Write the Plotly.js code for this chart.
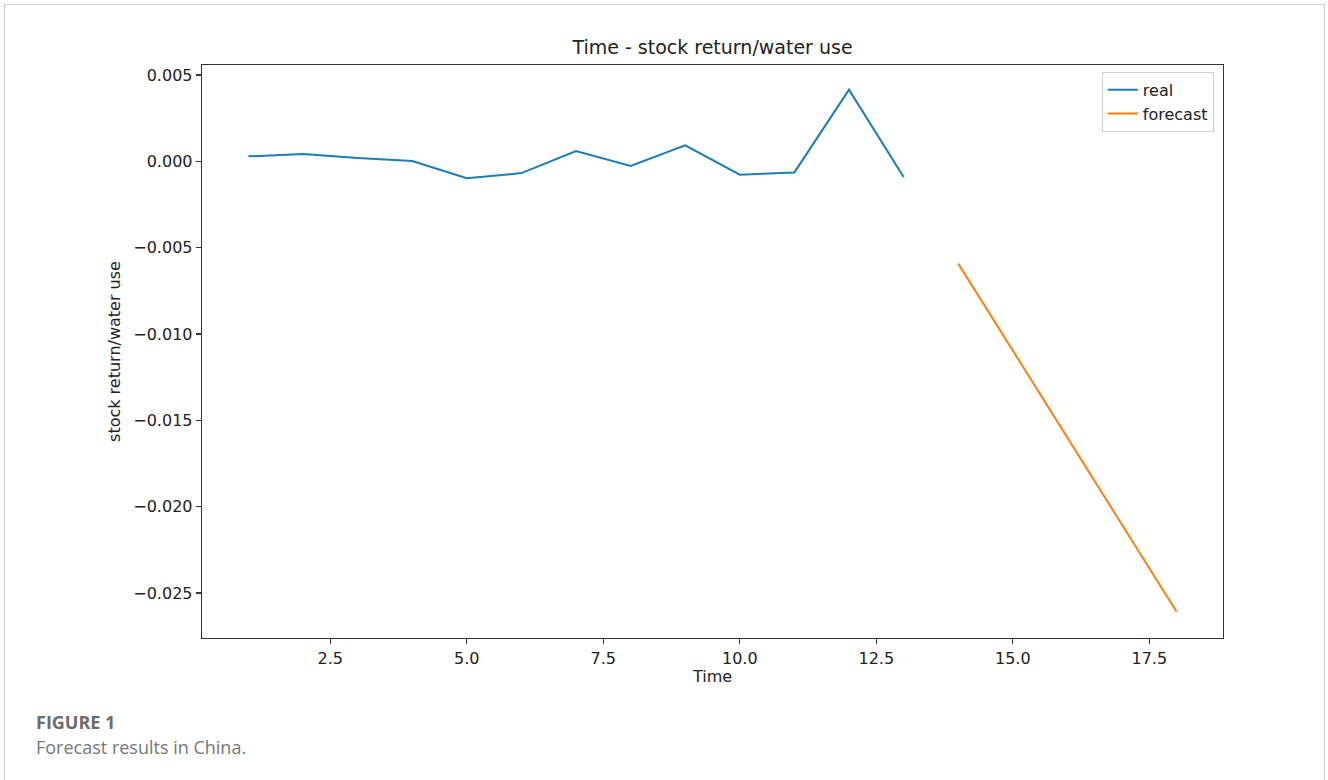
<!DOCTYPE html>
<html>
<head>
<meta charset="utf-8">
<script src="https://cdn.plot.ly/plotly-3.0.1.min.js"></script>
<style>
  html, body { margin: 0; padding: 0; background: #fff; }
  #wrap { position: relative; width: 1328px; height: 780px; overflow: hidden; }
  #frame { position: absolute; left: 4px; top: 4px; width: 1321px; height: 800px; border: 1px solid #cfcfcf; box-sizing: border-box; pointer-events: none; }
  #chart { position: absolute; left: 0; top: 0; width: 1328px; height: 780px; }
</style>
</head>
<body>
<div id="wrap">
  <div id="chart"></div>
  <div id="frame"></div>
</div>
<script>
// Data
const realTime = [1, 2, 3, 4, 5, 6, 7, 8, 9, 10, 11, 12, 13];
const realValues = [0.00029, 0.00042, 0.00019, 0.00002, -0.00098, -0.00068, 0.00060, -0.00027, 0.00093, -0.00077, -0.00064, 0.00415, -0.00091];
const forecastTime = [14, 15, 16, 17, 18];
const forecastValues = [-0.00592, -0.01095, -0.01600, -0.02104, -0.02608];

const xTickVals = [2.5, 5.0, 7.5, 10.0, 12.5, 15.0, 17.5];
const xTickText = ["2.5", "5.0", "7.5", "10.0", "12.5", "15.0", "17.5"];
const yTickVals = [0.005, 0.000, -0.005, -0.010, -0.015, -0.020, -0.025];
const yTickText = ["0.005", "0.000", "\u22120.005", "\u22120.010", "\u22120.015", "\u22120.020", "\u22120.025"];

const chartTitle = "Time - stock return/water use";
const xTitle = "Time";
const yTitle = "stock return/water use";
const figureLabel = "FIGURE 1";
const figureCaption = "Forecast results in China.";

const tickFont = { family: "DejaVu Sans, sans-serif", size: 16, color: "#222" };

const traces = [
  { x: realTime, y: realValues, type: "scatter", mode: "lines", name: "real",
    line: { color: "#1a7db6", width: 2 } },
  { x: forecastTime, y: forecastValues, type: "scatter", mode: "lines", name: "forecast",
    line: { color: "#ff7f0e", width: 2 } }
];

const layout = {
  width: 1328, height: 780,
  margin: { l: 202, r: 105, t: 65, b: 142, pad: 0 },
  paper_bgcolor: "rgba(0,0,0,0)",
  plot_bgcolor: "#fff",
  showlegend: true,
  title: { text: chartTitle, font: { family: "DejaVu Sans, sans-serif", size: 19, color: "#222" },
           x: 0.5, xref: "paper", xanchor: "center", y: 1 - 47/780, yref: "container", yanchor: "middle" },
  xaxis: {
    range: [0.15, 18.85], showgrid: false, zeroline: false,
    showline: true, linecolor: "#333", linewidth: 1.3, mirror: true,
    ticks: "outside", ticklen: 5, tickwidth: 1.2, tickcolor: "#333",
    tickvals: xTickVals, ticktext: xTickText, tickfont: tickFont,
    title: { text: xTitle, font: { family: "DejaVu Sans, sans-serif", size: 16, color: "#222" }, standoff: 4 }
  },
  yaxis: {
    range: [-0.0276, 0.00558], showgrid: false, zeroline: false,
    showline: true, linecolor: "#333", linewidth: 1.3, mirror: true,
    ticks: "outside", ticklen: 5, tickwidth: 1.2, tickcolor: "#333",
    tickvals: yTickVals, ticktext: yTickText, tickfont: tickFont,
    title: { text: yTitle, font: { family: "DejaVu Sans, sans-serif", size: 16, color: "#222" }, standoff: 8 }
  },
  legend: {
    x: 0.991, xanchor: "right", y: 0.988, yanchor: "top",
    bgcolor: "#fff", bordercolor: "#d0d0d0", borderwidth: 1,
    font: { family: "DejaVu Sans, sans-serif", size: 16, color: "#222" },
    tracegroupgap: 0
  },
  annotations: [
    { text: "<b>" + figureLabel + "</b>", xref: "paper", yref: "paper",
      x: (34 - 202) / 1021, y: -(722 - 638) / 573, xanchor: "left", yanchor: "middle",
      showarrow: false, font: { family: "Open Sans, sans-serif", size: 18, color: "#6b6b6b" } },
    { text: figureCaption, xref: "paper", yref: "paper",
      x: (34 - 202) / 1021, y: -(747 - 638) / 573, xanchor: "left", yanchor: "middle",
      showarrow: false, font: { family: "Open Sans, sans-serif", size: 18, color: "#777" } }
  ]
};

Plotly.newPlot("chart", traces, layout, { displayModeBar: false, staticPlot: true });
</script>
</body>
</html>
